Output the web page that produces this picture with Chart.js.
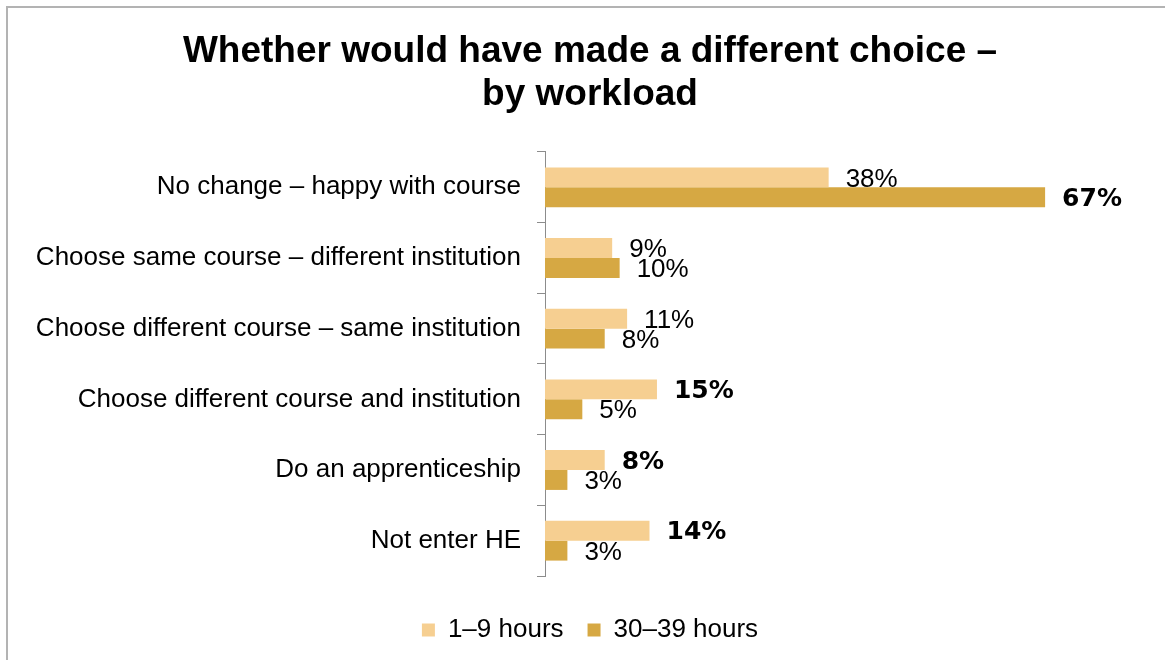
<!DOCTYPE html>
<html>
<head>
<meta charset="utf-8">
<script src="https://cdn.jsdelivr.net/npm/chart.js@4/dist/chart.umd.min.js"></script>
<style>
  html, body { margin: 0; padding: 0; background: #fff; overflow: hidden; }
  #frame {
    position: absolute; left: 6px; top: 6px;
    border-left: 2px solid #b3b3b3; border-top: 2px solid #b3b3b3;
    width: 1164px; height: 652px;
  }
  canvas { display: block; }
</style>
</head>
<body>
<div id="frame"><canvas id="chart" width="1164" height="652"></canvas></div>
<script>
// Survey responses: whether students would have chosen differently, split by weekly workload
const categories = [
  'No change \u2013 happy with course',
  'Choose same course \u2013 different institution',
  'Choose different course \u2013 same institution',
  'Choose different course and institution',
  'Do an apprenticeship',
  'Not enter HE'
];
const seriesNames = ['1\u20139 hours', '30\u201339 hours'];
const lowWorkload = [38, 9, 11, 15, 8, 14];
const highWorkload = [67, 10, 8, 5, 3, 3];
// value labels printed in bold (the larger of each pair is highlighted)
const lowBold = [false, false, false, true, true, true];
const highBold = [true, false, false, false, false, false];

const FONT = "'Liberation Sans', Arial, sans-serif";
const BOLD_FONT = "bold 25px 'DejaVu Sans', sans-serif";
const PLAIN_FONT = "26px " + FONT;

const valueLabels = {
  id: 'valueLabels',
  afterDatasetsDraw(chart) {
    const ctx = chart.ctx;
    const boldSets = [lowBold, highBold];
    ctx.save();
    ctx.textAlign = 'left';
    ctx.textBaseline = 'middle';
    ctx.fillStyle = '#000';
    chart.data.datasets.forEach((ds, di) => {
      const meta = chart.getDatasetMeta(di);
      meta.data.forEach((bar, i) => {
        ctx.font = boldSets[di][i] ? BOLD_FONT : PLAIN_FONT;
        ctx.fillText(ds.data[i] + '%', bar.x + 17, bar.y + 2);
      });
    });
    ctx.restore();
  }
};

new Chart(document.getElementById('chart'), {
  type: 'bar',
  data: {
    labels: categories,
    datasets: [
      { label: seriesNames[0], data: lowWorkload, backgroundColor: '#F6CF91' },
      { label: seriesNames[1], data: highWorkload, backgroundColor: '#D6A843' }
    ]
  },
  options: {
    indexAxis: 'y',
    responsive: false,
    devicePixelRatio: 1,
    animation: false,
    events: [],
    datasets: { bar: { categoryPercentage: 0.564, barPercentage: 1.0 } },
    layout: { padding: { left: 0, right: 0, top: 0, bottom: 7 } },
    scales: {
      x: {
        display: true, min: 0, max: 84,
        ticks: { display: false },
        grid: { display: false },
        border: { display: false },
        afterFit(scale) { scale.height = 17; }
      },
      y: {
        afterFit(scale) { scale.width = 537; },
        border: { display: true, color: '#8c8c8c', width: 1 },
        grid: { display: true, drawOnChartArea: false, drawTicks: true, tickLength: 8, color: '#8c8c8c', offset: true },
        ticks: { color: '#000', padding: 16, font: { family: FONT, size: 26 } }
      }
    },
    plugins: {
      title: {
        display: true,
        text: ['Whether would have made a different choice \u2013', 'by workload'],
        color: '#000',
        font: { family: FONT, size: 37, weight: 'bold', lineHeight: 1.162 },
        padding: { top: 22, bottom: 36 }
      },
      legend: {
        position: 'bottom',
        labels: {
          color: '#000',
          boxWidth: 13, boxHeight: 13,
          padding: 24,
          font: { family: FONT, size: 26 }
        }
      },
      tooltip: { enabled: false }
    }
  },
  plugins: [valueLabels]
});
</script>
</body>
</html>
